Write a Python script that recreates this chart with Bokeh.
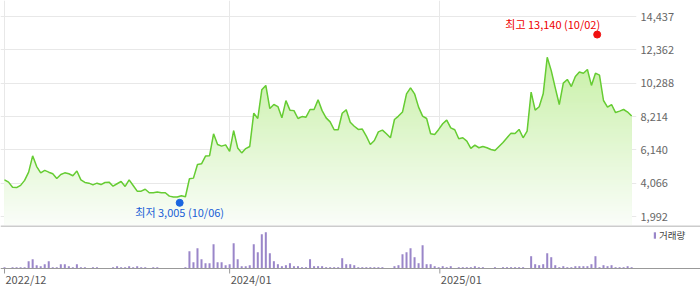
import numpy as np
import pandas as pd
from bokeh.plotting import figure
from bokeh.layouts import column
from bokeh.models import (FixedTicker, NumeralTickFormatter, Range1d, Span,
                          Legend, LegendItem)
from bokeh.core.properties import value
from bokeh.embed import file_html
from bokeh.resources import INLINE

# ---------------- data ----------------
first_week = "2022-12-05"          # weekly closes
close = [4276, 4130, 3817, 3790, 3930, 4240, 4750, 5768, 5100, 4710,
         4860, 4750, 4650, 4360, 4610, 4710, 4650, 4530, 4820, 4270,
         4110, 4066, 3960, 4066, 3980, 4110, 4130, 3880, 4030, 4170,
         3860, 4270, 3920, 3570, 3570, 3690, 3470, 3470, 3510, 3470,
         3470, 3260, 3200, 3200, 3280, 3220, 4340, 4380, 5230, 5270,
         5750, 5770, 7137, 6470, 6370, 6450, 6040, 7340, 6260, 5950,
         6220, 6350, 8420, 8090, 9875, 10150, 8710, 8960, 8830, 8130,
         9200, 8610, 8580, 8090, 8210, 8170, 8650, 8650, 9250, 8580,
         8130, 7880, 7390, 7390, 8420, 8630, 7860,
         7610, 7410, 7430, 6990, 6470, 6720, 7260, 7370, 7140, 6890,
         8030, 8240, 8490, 9626, 10000, 9626, 8800, 8240, 8090, 7140,
         7100, 7410, 7760, 7990, 7510, 7390, 6830, 6890, 6680, 6230,
         6430, 6270, 6350, 6270, 6160, 6100, 6350, 6600, 6890, 7180,
         7160, 7410, 6890, 7300, 9730, 8610, 8820, 9626, 11900, 11070,
         10000, 8960, 10290, 10520, 10080, 10700, 10980, 10910, 11140, 10150,
         10910, 10790, 9210, 8800, 8960, 8460, 8550, 8650, 8490, 8240]
volume = [130, 50, 130, 130, 130, 130, 730, 930, 330, 230,
          430, 730, 130, 130, 430, 430, 230, 130, 430, 130,
          130, 30, 130, 130, 30, 30, 30, 130, 230, 130,
          130, 230, 130, 230, 130, 130, 30, 130, 130, 30,
          30, 30, 30, 30, 30, 130, 1730, 630, 2030, 930,
          530, 530, 2430, 630, 630, 330, 430, 2530, 930, 230,
          230, 330, 2430, 1630, 3430, 3630, 1530, 730, 430, 230,
          330, 530, 230, 230, 130, 130, 930, 230, 230, 230,
          130, 130, 130, 130, 1030, 430, 430, 330, 130, 130,
          130, 130, 130, 130, 130, 30, 30, 230, 330, 1430,
          1630, 2030, 1130, 530, 2330, 430, 430, 230, 130, 230,
          130, 230, 30, 130, 130, 130, 130, 230, 130, 130,
          30, 30, 130, 30, 130, 130, 130, 130, 130, 130,
          30, 1230, 430, 330, 430, 1530, 1130, 330, 130, 230,
          130, 130, 230, 230, 230, 230, 430, 1230, 130, 330,
          230, 330, 130, 130, 130, 230, 130]
y_ticks = [1992, 4066, 6140, 8214, 10288, 12362, 14437]
x_tick_labels = ["2022/12", "2024/01", "2025/01"]
low_value, low_date, low_text = 3005, "2023-10-06", "10/06"
high_value, high_date, high_text = 13140, "2025-10-02", "10/02"
volume_label = "거래량"

# ---------------- layout constants ----------------
FONT = "Noto Sans CJK KR"
W = 700
TOP_H = 225
FRAME_W = 636
VOL_H = 64
VOL_BASE_PX = 43        # baseline distance from top of volume panel
VOL_UNITS_PER_PX = 100
WEEK_PX = 4.02
WEEK_MS = 7 * 86400 * 1000
GRID = "#e8e8e8"
AXIS = "#999999"

dates = pd.date_range(first_week, periods=len(close), freq="7D")
xs = (dates.astype("int64") // 10**6).to_numpy().astype(float)
x0 = xs[0] - WEEK_MS
x_top_end = x0 + FRAME_W / WEEK_PX * WEEK_MS
x_vol_end = x0 + W / WEEK_PX * WEEK_MS

y_lo, y_hi = 1432, 15433
close_arr = np.array(close, dtype=float)

# tick positions: first day of month, clamped to start of data
tick_pos = []
for lbl in x_tick_labels:
    yy, mm = lbl.split("/")
    ts = max(pd.Timestamp(int(yy), int(mm), 1), dates[0])
    tick_pos.append(ts.value // 10**6)

# ---------------- price figure ----------------
p = figure(width=W, height=TOP_H, x_range=Range1d(x0, x_top_end),
           y_range=Range1d(y_lo, y_hi), x_axis_location=None,
           y_axis_location="right", output_backend="svg", toolbar_location=None,
           min_border_left=0, min_border_right=W - FRAME_W, min_border_top=0,
           min_border_bottom=0)
p.frame_align = False
p.outline_line_color = None

p.yaxis.ticker = FixedTicker(ticks=y_ticks)
p.yaxis.formatter = NumeralTickFormatter(format="0,0")
p.yaxis.axis_line_color = None
p.yaxis.major_tick_line_color = None
p.yaxis.minor_tick_line_color = None
p.yaxis.major_tick_out = 0
p.yaxis.major_label_standoff = 4
p.yaxis.major_label_text_font = FONT
p.yaxis.major_label_text_font_size = "11px"
p.yaxis.major_label_text_color = "#666666"

p.ygrid.ticker = FixedTicker(ticks=y_ticks)
p.ygrid.grid_line_color = GRID
p.xgrid.ticker = FixedTicker(ticks=tick_pos)
p.xgrid.grid_line_color = GRID

# gradient area (bands)
band = 150
levels = np.arange(y_lo, close_arr.max() + band, band)
span = 14437 - y_lo
for k in reversed(range(len(levels) - 1)):
    mid = (levels[k] + levels[k + 1]) / 2
    t = min(max((mid - y_lo) / span, 0), 1)
    r = int(round(250 - 62 * t))
    g = int(round(253 - 16 * t))
    b = int(round(249 - 102 * t))
    col = "#%02x%02x%02x" % (r, g, b)
    p.varea(x=xs, y1=y_lo, y2=np.minimum(close_arr, levels[k + 1]),
            fill_color=col, fill_alpha=1)

p.line(xs, close, line_color="#66cc33", line_width=1.5)

upp = (y_hi - y_lo) / TOP_H  # data units per pixel
low_x = pd.Timestamp(low_date).value // 10**6
high_x = pd.Timestamp(high_date).value // 10**6
p.scatter([low_x], [low_value - 2.6 * upp], size=7, color="#1a66e0")
p.scatter([high_x], [high_value + 2.8 * upp], size=7, color="#f01010")
p.text([low_x], [low_value], text=[f"최저 {low_value:,} ({low_text})"],
       text_align="center", text_baseline="middle", y_offset=12,
       text_font=value(FONT), text_font_size="11px", text_color="#1a5fd6")
p.text([high_x], [high_value], text=[f"최고 {high_value:,} ({high_text})"],
       text_align="right", text_baseline="middle", y_offset=-13.5, x_offset=3,
       text_font=value(FONT), text_font_size="11px", text_color="#ee0000")

# ---------------- volume figure ----------------
u = VOL_UNITS_PER_PX
v = figure(width=W, height=VOL_H, x_range=Range1d(x0, x_vol_end),
           y_range=Range1d(-(VOL_H - VOL_BASE_PX) * u, VOL_BASE_PX * u),
           x_axis_location=None, y_axis_location=None,
           output_backend="svg", toolbar_location=None,
           min_border_left=0, min_border_right=0, min_border_top=0,
           min_border_bottom=0)
v.frame_align = False
v.outline_line_color = None
v.grid.visible = False

bars = v.vbar(x=xs, bottom=0, top=volume, width=0.5 * WEEK_MS,
              fill_color="#9a86c9", line_color=None)

# separator (top) and baseline
v.add_layout(Span(location=VOL_BASE_PX * u - 0.5 * u, dimension="width",
                  line_color=AXIS, line_width=1))
v.add_layout(Span(location=0, dimension="width", line_color=AXIS, line_width=1))

# time ticks and labels
v.segment(x0=tick_pos, y0=[0] * len(tick_pos), x1=tick_pos,
          y1=[-5 * u] * len(tick_pos), line_color=AXIS, line_width=1)
v.text(x=tick_pos, y=[-10 * u] * len(tick_pos), text=x_tick_labels,
       text_align="left", text_baseline="middle", x_offset=1,
       text_font=value(FONT), text_font_size="11px", text_color="#555555")

legend = Legend(items=[LegendItem(label=volume_label, renderers=[bars])],
                location=(653, VOL_H - 17), orientation="vertical",
                border_line_color=None, background_fill_alpha=0,
                padding=0, margin=0, spacing=0, glyph_width=3, glyph_height=8,
                label_height=8, label_standoff=3, label_text_font=FONT,
                label_text_font_size="9.5px", label_text_color="#444444",
                label_text_baseline="middle")
v.add_layout(legend, "center")

layout = column(p, v, spacing=0)
open("out.html", "w").write(file_html(layout, INLINE))
